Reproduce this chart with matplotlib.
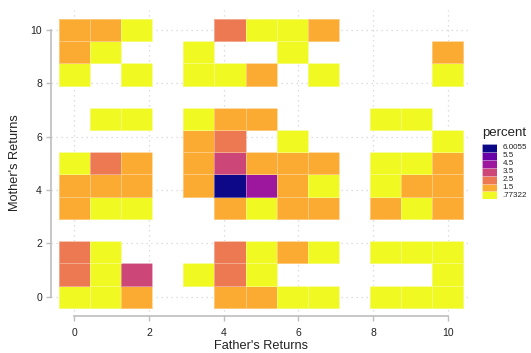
import numpy as np
import matplotlib
matplotlib.use("Agg")
import matplotlib.pyplot as plt
from matplotlib.colors import ListedColormap, BoundaryNorm

plt.rcParams['font.family'] = ['Liberation Sans', 'DejaVu Sans']

# bin centres for both axes (returns binned into 12ths of 0..10)
father_returns = [0.0, 0.833, 1.667, 2.5, 3.333, 4.167, 5.0, 5.833, 6.667, 7.5, 8.333, 9.167, 10.0]
mother_returns = [0.0, 0.833, 1.667, 2.5, 3.333, 4.167, 5.0, 5.833, 6.667, 7.5, 8.333, 9.167, 10.0]

n = np.nan
# percent of observations per cell, rows listed from mother's returns = 10 down to 0
percent_rows = [
    [2.0, 2.0, 1.0, n, n, 3.0, 1.0, 1.0, 2.0, n, n, n, n],
    [2.0, 1.0, n, n, 1.0, n, n, 1.0, n, n, n, n, 2.0],
    [1.0, n, 1.0, n, 1.0, 1.0, 2.0, n, 1.0, n, n, n, 1.0],
    [n, n, n, n, n, n, n, n, n, n, n, n, n],
    [n, 1.0, 1.0, n, 1.0, 2.0, 2.0, n, n, n, 1.0, 1.0, n],
    [n, n, n, n, 2.0, 3.0, n, 1.0, n, n, n, n, 1.0],
    [1.0, 3.0, 2.0, n, 2.0, 4.0, 2.0, 2.0, 2.0, n, 1.0, 1.0, 2.0],
    [2.0, 2.0, 2.0, n, 2.0, 6.0055, 5.0, 2.0, 1.0, n, 1.0, 2.0, 2.0],
    [2.0, 1.0, 1.0, n, n, 2.0, 1.0, 2.0, 2.0, n, 2.0, 1.0, 2.0],
    [n, n, n, n, n, n, n, n, n, n, n, n, n],
    [3.0, 1.0, n, n, n, 3.0, 1.0, 2.0, 1.0, n, 1.0, 1.0, 1.0],
    [3.0, 1.0, 4.0, n, 1.0, 3.0, 1.0, n, n, n, n, n, 1.0],
    [1.0, 1.0, 2.0, n, n, 2.0, 2.0, 1.0, 1.0, n, 1.0, 1.0, 1.0],
]

cuts = [0.77322, 1.5, 2.5, 3.5, 4.5, 5.5, 6.0055, 6.02]
cut_labels = ['.77322', '1.5', '2.5', '3.5', '4.5', '5.5', '6.0055']
colors = ['#f0f921', '#fcab32', '#ed7953', '#cc4778', '#9c179e', '#6a00a8', '#0d0887']

cmap = ListedColormap(colors)
norm = BoundaryNorm(cuts, cmap.N)

fx = np.array(father_returns)
my = np.array(mother_returns)
z = np.ma.masked_invalid(np.array(percent_rows)[::-1])

half = (fx[1] - fx[0]) / 2
x_edges = np.append(fx - half, fx[-1] + half)
y_edges = np.append(my - half, my[-1] + half)

fig = plt.figure(figsize=(5.31, 3.53), dpi=100)
ax = fig.add_axes([51 / 531, 1 - 315.7 / 353, 419 / 531, 305.7 / 353])

ax.pcolormesh(x_edges, y_edges, z, cmap=cmap, norm=norm,
              edgecolors=(1, 1, 1, 0.35), linewidth=0.5)

ax.set_xlim(-0.624, 10.594)
ax.set_ylim(-0.712, 10.75)
ax.set_xticks([0, 2, 4, 6, 8, 10])
ax.set_yticks([0, 2, 4, 6, 8, 10])
ax.grid(True, linestyle=(0, (1, 3)), color='#d4d4d4', linewidth=0.9)
ax.set_axisbelow(True)

for side in ['top', 'right']:
    ax.spines[side].set_visible(False)
for side in ['left', 'bottom']:
    ax.spines[side].set_color('#bdbdbd')
    ax.spines[side].set_linewidth(1.2)
ax.spines['left'].set_bounds(0, 10)
ax.spines['bottom'].set_bounds(0, 10)
ax.tick_params(axis='both', colors='#bdbdbd', labelcolor='#222222', labelsize=7.5,
               length=3.5, width=1.0)
ax.tick_params(axis='x', pad=5)
ax.tick_params(axis='y', pad=3)

ax.set_xlabel("Father's Returns", fontsize=9.2, color='#222222', labelpad=2)
ax.set_ylabel("Mother's Returns", fontsize=9.2, color='#222222', labelpad=7)

# colour key
kax = fig.add_axes([481.7 / 531, 1 - 199.3 / 353, 15 / 531, 55.3 / 353])
for i, c in enumerate(colors):
    kax.bar(0, 1, bottom=i, width=1, color=c, edgecolor=(1, 1, 1, 0.35), linewidth=0.4)
    kax.text(0.9, i + 0.5, cut_labels[i], fontsize=5.8, va='center', ha='left',
             color='#222222')
kax.set_xlim(-0.5, 0.5)
kax.set_ylim(0, len(colors))
kax.axis('off')
fig.text(504.5 / 531, 1 - 133 / 353, 'percent', fontsize=9.5, ha='center', va='center',
         color='#222222')

fig.savefig('out.png', dpi=100)
